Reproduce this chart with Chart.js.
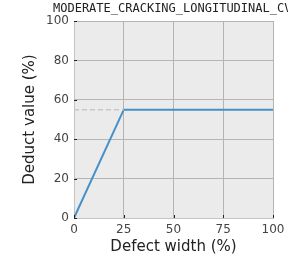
<!DOCTYPE html>
<html>
<head>
<meta charset="utf-8">
<script src="https://cdn.jsdelivr.net/npm/chart.js@4"></script>
<style>
  html, body { margin: 0; padding: 0; background: #fff; }
  #wrap { width: 288px; height: 262px; position: relative; }
</style>
</head>
<body>
<div id="wrap"><canvas id="chart" width="288" height="262"></canvas></div>
<script>
// data
const chartTitle = "MODERATE_CRACKING_LONGITUDINAL_CV";
const defectWidth = [0, 25, 100];
const deductValue = [0, 55, 55];
const refX = [0, 25];
const refY = [55, 55];
const xTicks = [0, 25, 50, 75, 100];
const yTicks = [0, 20, 40, 60, 80, 100];

const font = "'DejaVu Sans', sans-serif";

// small ticks pointing inward + title
const extras = {
  id: "extras",
  afterDatasetsDraw(chart) {
    const ctx = chart.ctx;
    const area = chart.chartArea;
    const xs = chart.scales.x;
    const ys = chart.scales.y;
    ctx.save();
    ctx.strokeStyle = "#222";
    ctx.lineWidth = 1;
    ctx.beginPath();
    xTicks.forEach((v) => {
      const px = Math.round(xs.getPixelForValue(v)) + 0.5;
      ctx.moveTo(px, area.bottom);
      ctx.lineTo(px, area.bottom - 3);
    });
    yTicks.forEach((v) => {
      const py = Math.round(ys.getPixelForValue(v)) + 0.5;
      ctx.moveTo(area.left, py);
      ctx.lineTo(area.left + 3, py);
    });
    ctx.stroke();

    ctx.fillStyle = "#222";
    ctx.font = "12px 'DejaVu Sans Mono', monospace";
    ctx.textBaseline = "middle";
    ctx.textAlign = "left";
    ctx.fillText(chartTitle, 53, 9);
    ctx.restore();
  },
};

const bgPlugin = {
  id: "bg",
  beforeDraw(chart) {
    const { ctx, chartArea } = chart;
    ctx.save();
    ctx.fillStyle = "#ebebeb";
    ctx.fillRect(chartArea.left, chartArea.top, chartArea.width, chartArea.height);
    ctx.restore();
  },
};

new Chart(document.getElementById("chart"), {
  type: "line",
  data: {
    datasets: [
      {
        data: refX.map((x, i) => ({ x: x, y: refY[i] })),
        borderColor: "#c8c8c8",
        borderWidth: 1.5,
        borderDash: [5, 3],
        pointRadius: 0,
        fill: false,
      },
      {
        data: defectWidth.map((x, i) => ({ x: x, y: deductValue[i] })),
        borderColor: "#4690c8",
        borderWidth: 2,
        pointRadius: 0,
        fill: false,
        tension: 0,
      },
    ],
  },
  options: {
    responsive: false,
    animation: false,
    layout: { padding: { top: 21, right: 15, left: 0, bottom: 0 } },
    plugins: { legend: { display: false }, tooltip: { enabled: false } },
    scales: {
      x: {
        type: "linear",
        min: 0,
        max: 100,
        afterBuildTicks: (s) => { s.ticks = xTicks.map((v) => ({ value: v })); },
        afterFit: (s) => { s.height = 44; s.paddingLeft = 0; s.paddingRight = 0; },
        grid: { color: "#b4b4b4", lineWidth: 1, drawTicks: false },
        border: { color: "#c4c4c4", width: 1 },
        ticks: { color: "#444", font: { family: font, size: 12 }, padding: 5, maxRotation: 0 },
        title: { display: true, text: "Defect width (%)", color: "#222", font: { family: font, size: 15 }, padding: { top: 0, bottom: 6 } },
      },
      y: {
        type: "linear",
        min: 0,
        max: 100,
        afterBuildTicks: (s) => { s.ticks = yTicks.map((v) => ({ value: v })); },
        afterFit: (s) => { s.width = 74; s.paddingTop = 0; s.paddingBottom = 0; },
        grid: { color: "#b4b4b4", lineWidth: 1, drawTicks: false },
        border: { color: "#c4c4c4", width: 1 },
        ticks: { color: "#444", font: { family: font, size: 12 }, padding: 5 },
        title: { display: true, text: "Deduct value (%)", color: "#222", font: { family: font, size: 15 }, padding: { top: 21, bottom: 0 } },
      },
    },
  },
  plugins: [bgPlugin, extras],
});
</script>
</body>
</html>
